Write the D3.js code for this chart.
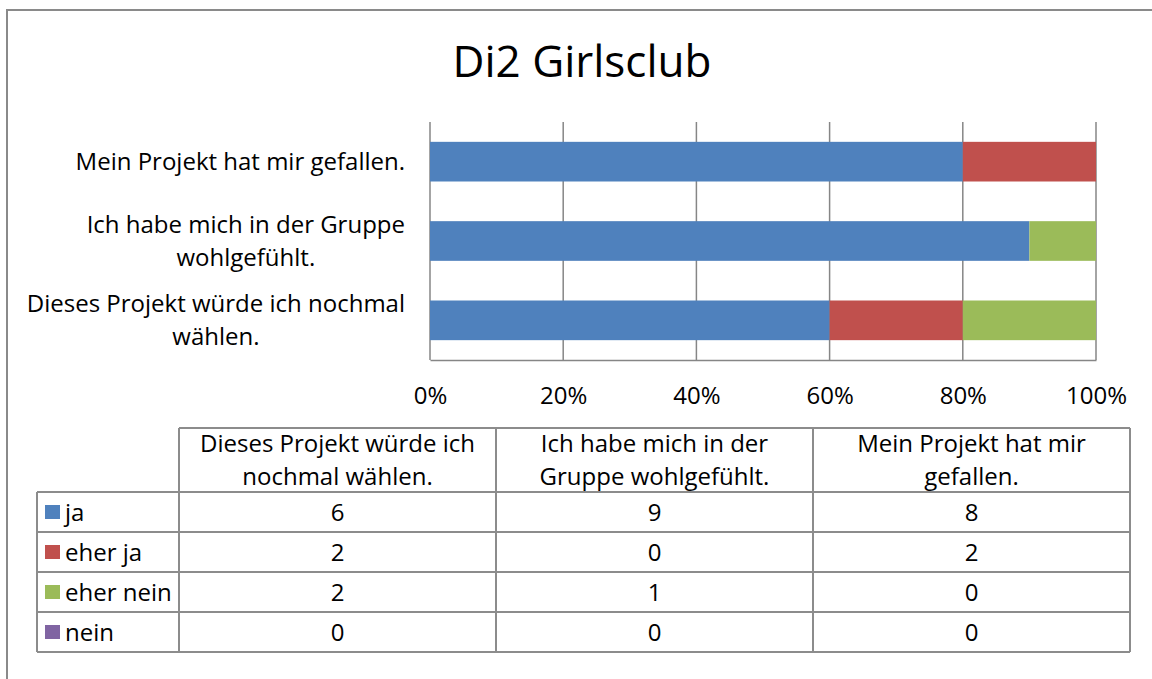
<!DOCTYPE html>
<html>
<head>
<meta charset="utf-8">
<script src="https://cdn.jsdelivr.net/npm/d3@7"></script>
<style>
  html, body { margin: 0; padding: 0; background: #fff; }
  svg { display: block; }
  text { font-family: "Open Sans", "Noto Sans", sans-serif; fill: #000; }
</style>
</head>
<body>
<svg id="chart" width="1152" height="679"></svg>
<script>
// ---- data ----
const title = "Di2 Girlsclub";
const categories = ["Dieses Projekt würde ich nochmal wählen.", "Ich habe mich in der Gruppe wohlgefühlt.", "Mein Projekt hat mir gefallen."];
const axisLabelLines = [["Dieses Projekt würde ich nochmal", "wählen."], ["Ich habe mich in der Gruppe", "wohlgefühlt."], ["Mein Projekt hat mir gefallen."]];
const headerLabelLines = [["Dieses Projekt würde ich", "nochmal wählen."], ["Ich habe mich in der", "Gruppe wohlgefühlt."], ["Mein Projekt hat mir", "gefallen."]];
const seriesNames = ["ja", "eher ja", "eher nein", "nein"];
const ja = [6, 9, 8];
const eherJa = [2, 0, 2];
const eherNein = [2, 1, 0];
const nein = [0, 0, 0];
const seriesColors = ["#4F81BD", "#C0504D", "#9BBB59", "#8064A2"];
const xTicks = [0, 0.2, 0.4, 0.6, 0.8, 1.0];

// ---- build ----
const FONT = "'Open Sans', 'Noto Sans', sans-serif";
const FS = 24;
const BASE = 8.6;
const seriesValues = [ja, eherJa, eherNein, nein];
const rows = categories.map((c, i) => {
  const o = { cat: c };
  seriesNames.forEach((s, k) => o[s] = seriesValues[k][i]);
  return o;
});
const stacked = d3.stack().keys(seriesNames).offset(d3.stackOffsetExpand)(rows);

const svg = d3.select("#chart");
const gridColor = "#868686";

// outer chart border
svg.append("rect").attr("x", 7).attr("y", 10).attr("width", 1200).attr("height", 720)
  .attr("fill", "none").attr("stroke", "#8a8a8a").attr("stroke-width", 2);

// title
svg.append("text").attr("x", 582).attr("y", 77).attr("text-anchor", "middle")
  .attr("font-size", 44).text(title);

// scales
const x = d3.scaleLinear().domain([0, 1]).range([430, 1096]);
const y = d3.scaleBand().domain(categories.slice().reverse()).range([122, 360])
  .paddingInner(0.5).paddingOuter(0.25);

// gridlines (vertical)
svg.append("g").selectAll("line").data(xTicks).join("line")
  .attr("x1", d => x(d)).attr("x2", d => x(d))
  .attr("y1", 122).attr("y2", 360)
  .attr("stroke", gridColor).attr("stroke-width", 1.5);

// bottom axis
const xAxis = d3.axisBottom(x).tickValues(xTicks).tickFormat(d3.format(".0%")).tickSize(0).tickPadding(0);
const gx = svg.append("g").attr("transform", "translate(0,360)").call(xAxis);
gx.select(".domain").attr("stroke", gridColor).attr("stroke-width", 1.5);
gx.selectAll("text").attr("font-size", FS).attr("dy", null).attr("y", 35 + BASE)
  .style("font-family", FONT).attr("fill", "#000");

// bars
svg.append("g").selectAll("g").data(stacked).join("g")
  .attr("fill", (d, i) => seriesColors[i])
  .selectAll("rect").data(d => d.map(v => ({ v, cat: v.data.cat }))).join("rect")
  .attr("x", d => x(d.v[0]))
  .attr("width", d => Math.max(0, x(d.v[1]) - x(d.v[0])))
  .attr("y", d => y(d.cat))
  .attr("height", y.bandwidth());

// category labels: block right-aligned, lines centred
const lineH = 33;
const labG = svg.append("g");
categories.forEach((c, i) => {
  const lines = axisLabelLines[i];
  const g = labG.append("g");
  const cy = y(c) + y.bandwidth() / 2;
  const texts = g.selectAll("text").data(lines).join("text")
    .attr("font-size", FS).attr("text-anchor", "middle")
    .attr("y", (d, k) => cy + (k - (lines.length - 1) / 2) * lineH + BASE)
    .text(d => d);
  let maxW = 0;
  texts.each(function () { maxW = Math.max(maxW, this.getComputedTextLength()); });
  texts.attr("x", 405 - maxW / 2);
});

// ---- data table ----
const tblLeft = 37, tblRight = 1130, firstColRight = 179;
const headTop = 428, headBottom = 492, rowH = 40;
const colScale = d3.scaleBand().domain(categories).range([firstColRight, tblRight]);
const rowScale = d3.scaleBand().domain(seriesNames).range([headBottom, headBottom + rowH * seriesNames.length]);
const tblBottom = headBottom + rowH * seriesNames.length;
const tbl = svg.append("g").attr("stroke", "#8c8c8c").attr("stroke-width", 2).attr("fill", "none");

tbl.append("line").attr("x1", firstColRight).attr("x2", tblRight).attr("y1", headTop).attr("y2", headTop);
seriesNames.forEach(s => {
  tbl.append("line").attr("x1", tblLeft).attr("x2", tblRight).attr("y1", rowScale(s)).attr("y2", rowScale(s));
});
tbl.append("line").attr("x1", tblLeft).attr("x2", tblRight).attr("y1", tblBottom).attr("y2", tblBottom);
tbl.append("line").attr("x1", tblLeft).attr("x2", tblLeft).attr("y1", headBottom).attr("y2", tblBottom);
categories.forEach(c => {
  tbl.append("line").attr("x1", colScale(c)).attr("x2", colScale(c)).attr("y1", headTop).attr("y2", tblBottom);
});
tbl.append("line").attr("x1", tblRight).attr("x2", tblRight).attr("y1", headTop).attr("y2", tblBottom);

// header text
categories.forEach((c, i) => {
  const lines = headerLabelLines[i];
  const cx = colScale(c) + colScale.bandwidth() / 2;
  const cy = (headTop + headBottom) / 2;
  svg.append("g").selectAll("text").data(lines).join("text")
    .attr("font-size", FS).attr("text-anchor", "middle")
    .attr("x", cx)
    .attr("y", (d, k) => cy + (k - (lines.length - 1) / 2) * lineH + BASE)
    .text(d => d);
});

// legend keys + names + values
seriesNames.forEach((s, k) => {
  const cy = rowScale(s) + rowH / 2;
  svg.append("rect").attr("x", 45).attr("y", cy - 7).attr("width", 15).attr("height", 14)
    .attr("fill", seriesColors[k]);
  svg.append("text").attr("x", 65).attr("y", cy + BASE).attr("font-size", FS).text(s);
  categories.forEach((c, i) => {
    svg.append("text").attr("x", colScale(c) + colScale.bandwidth() / 2).attr("y", cy + BASE)
      .attr("text-anchor", "middle").attr("font-size", FS).text(seriesValues[k][i]);
  });
});
</script>
</body>
</html>
